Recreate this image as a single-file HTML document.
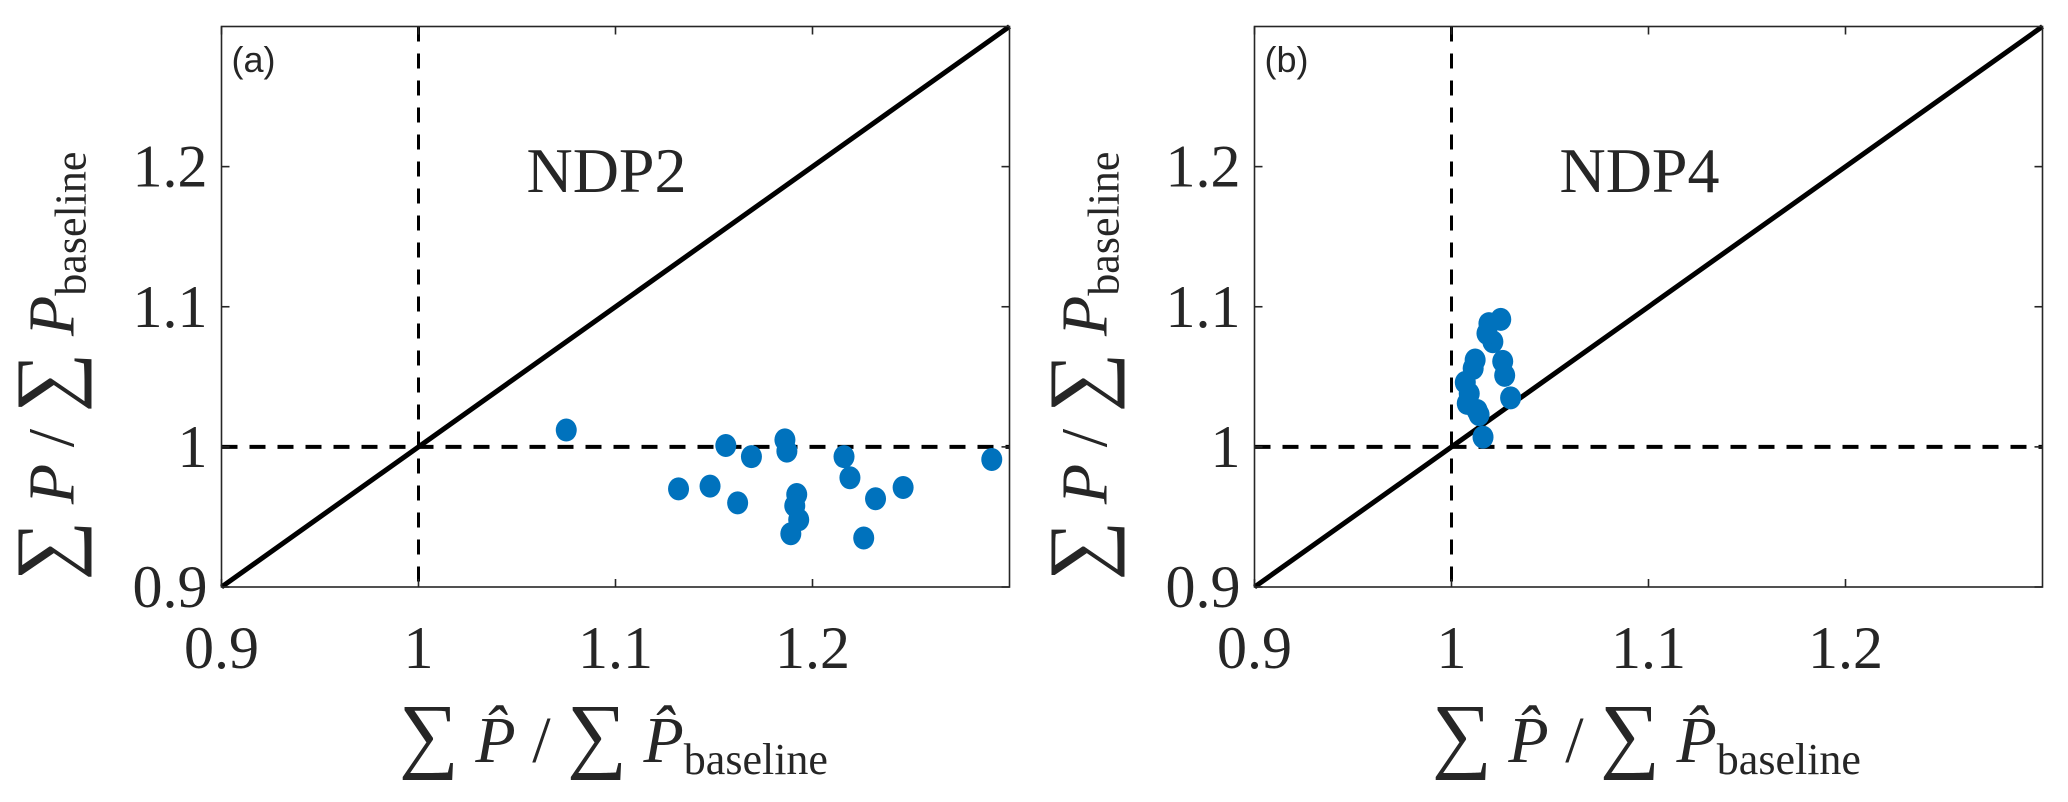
<!DOCTYPE html>
<html><head><meta charset="utf-8"><style>
html,body{margin:0;padding:0;background:#fff;}
svg{display:block;}
text{font-family:"Liberation Serif",serif;fill:#262626;}
</style></head><body>
<svg id="fig" width="2068" height="802" viewBox="0 0 2068 802" xmlns="http://www.w3.org/2000/svg"></svg>
<script>
const tickValues = [0.9, 1.0, 1.1, 1.2];
const tickLabels = ["0.9", "1", "1.1", "1.2"];
const ndp2X = [1.075,1.156,1.169,1.186,1.187,1.216,1.219,1.291,1.132,1.148,1.162,1.192,1.191,1.193,1.189,1.232,1.246,1.226];
const ndp2Y = [1.012,1.001,0.993,1.005,0.997,0.993,0.978,0.991,0.970,0.972,0.960,0.966,0.958,0.948,0.938,0.963,0.971,0.935];
const ndp4X = [1.016,1.030,1.014,1.008,1.007,1.012,1.026,1.027,1.021,1.019,1.025,1.011,1.009,1.018,1.013];
const ndp4Y = [1.007,1.035,1.023,1.031,1.046,1.062,1.061,1.051,1.075,1.088,1.091,1.056,1.038,1.081,1.026];
const panelTitles = ["NDP2","NDP4"];
const panelLetters = ["(a)","(b)"];

const NS="http://www.w3.org/2000/svg";
const svgEl=document.getElementById('fig');
function mk(tag,attrs,parent){const e=document.createElementNS(NS,tag);for(const k in attrs)e.setAttribute(k,attrs[k]);(parent||svgEl).appendChild(e);return e;}

const panels=[{left:221.5,xs:ndp2X,ys:ndp2Y},{left:1254.5,xs:ndp4X,ys:ndp4Y}];
const plotW=788, plotTop=26.5, plotBottom=587, plotH=plotBottom-plotTop;
const xmin=0.9,xmax=1.3,ymin=0.9,ymax=1.3;

panels.forEach((p,i)=>{
  const g=mk('g',{});
  
  
  const sx=v=>p.left+(v-xmin)/(xmax-xmin)*plotW;
  const sy=v=>plotBottom-(v-ymin)/(ymax-ymin)*plotH;
  const vl=mk('line',{x1:sx(1),x2:sx(1),y1:plotTop,y2:plotBottom,stroke:'#000','stroke-width':3,'stroke-dasharray':'15 12'},g);
  
  
  const hl=mk('line',{x1:p.left,x2:p.left+plotW,y1:sy(1),y2:sy(1),stroke:'#000','stroke-width':4,'stroke-dasharray':'16 12'},g);
  
  
  const dl=mk('line',{x1:sx(xmin),y1:sy(ymin),x2:sx(xmax),y2:sy(ymax),stroke:'#000','stroke-width':5},g);
  
  
  p.xs.forEach((xv,j)=>{
    const c=mk('ellipse',{cx:sx(xv),cy:sy(p.ys[j]),rx:10.5,ry:11.5,fill:'#0072BD'},g);
    
    
  });
  const box=mk('rect',{x:p.left,y:plotTop,width:plotW,height:plotH,fill:'none',stroke:'#262626','stroke-width':1.6},g);
  
  
  tickValues.forEach((t,k)=>{
    const X=sx(t),Y=sy(t);
    mk('line',{x1:X,x2:X,y1:plotBottom,y2:plotBottom-8,stroke:'#262626','stroke-width':1.6},g);
    mk('line',{x1:X,x2:X,y1:plotTop,y2:plotTop+8,stroke:'#262626','stroke-width':1.6},g);
    mk('line',{x1:p.left,x2:p.left+8,y1:Y,y2:Y,stroke:'#262626','stroke-width':1.6},g);
    mk('line',{x1:p.left+plotW,x2:p.left+plotW-8,y1:Y,y2:Y,stroke:'#262626','stroke-width':1.6},g);
    const xt=mk('text',{x:X,y:668,'text-anchor':'middle','font-size':60},g);
    xt.textContent=tickLabels[k];
    
    
    const yt=mk('text',{x:p.left-14,y:Y+20,'text-anchor':'end','font-size':60},g);
    yt.textContent=tickLabels[k];
    
    
  });
  const lt=mk('text',{x:p.left+10,y:72,'font-size':36,style:'font-family:"Liberation Sans",sans-serif'},g);
  lt.textContent=panelLetters[i];
  
  
  const tt=mk('text',{x:sx(1.0)+188,y:192,'text-anchor':'middle','font-size':64},g);
  tt.textContent=panelTitles[i];
  
  
  const xl=mk('text',{x:p.left+392,y:762,'text-anchor':'middle','font-size':66},g);
  
  
  xl.innerHTML='<tspan font-size="84">∑</tspan> <tspan font-style="italic">P̂</tspan> / <tspan font-size="84">∑</tspan> <tspan font-style="italic">P̂</tspan><tspan font-size="44" dy="12">baseline</tspan>';
  const yx=p.left-148, yy=366;
  const yl=mk('text',{x:yx,y:yy,'text-anchor':'middle','font-size':66,transform:'rotate(-90 '+yx+' '+yy+')'},g);
  
  
  yl.innerHTML='<tspan font-size="84">∑</tspan> <tspan font-style="italic">P</tspan> / <tspan font-size="84">∑</tspan> <tspan font-style="italic">P</tspan><tspan font-size="44" dy="12">baseline</tspan>';
});
</script>
</body></html>
